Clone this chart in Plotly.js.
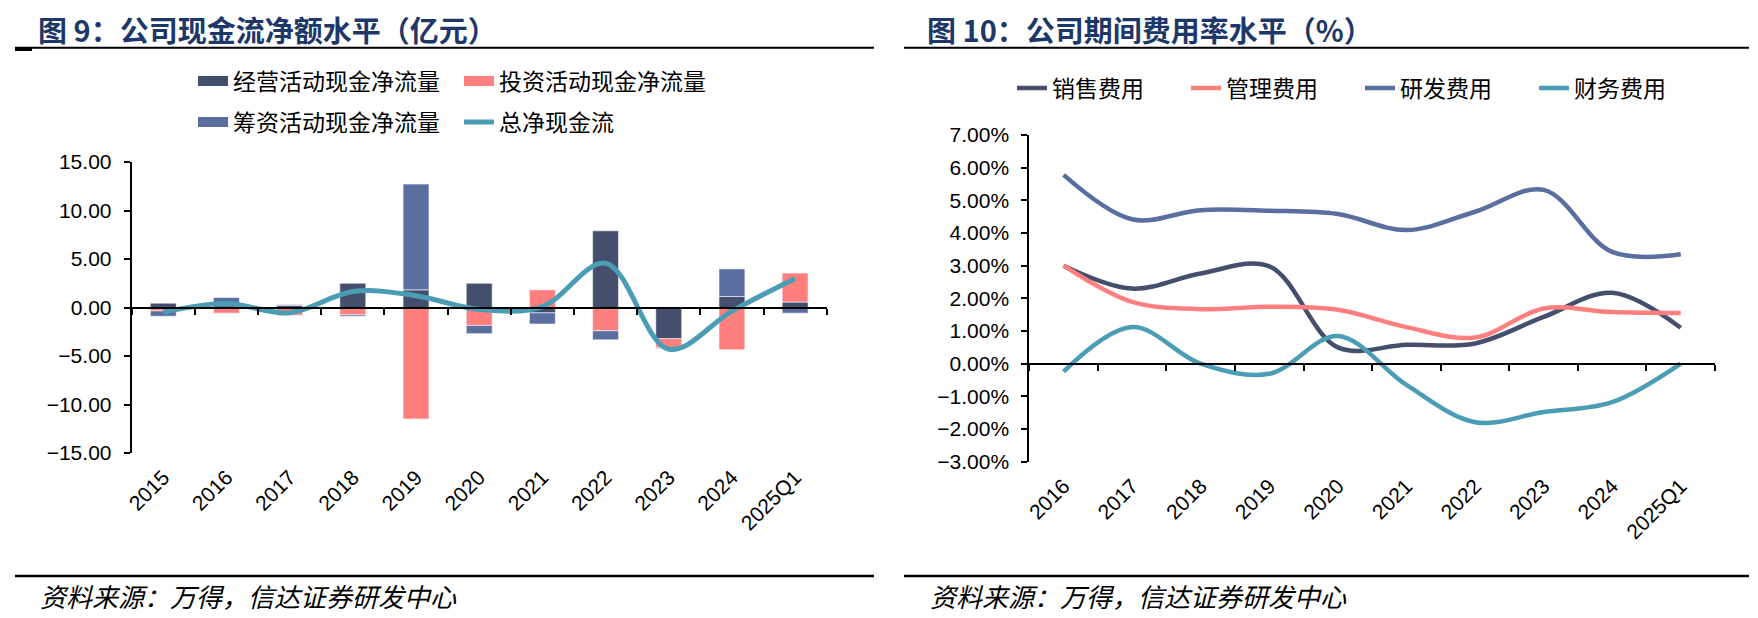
<!DOCTYPE html>
<html>
<head>
<meta charset="utf-8">
<script src="https://cdn.plot.ly/plotly-3.0.1.min.js"></script>
<style>
  html, body { margin: 0; padding: 0; background: #fff; }
  #chart { width: 1758px; height: 618px; }
</style>
</head>
<body>
<div id="chart"></div>
<script>
// ---------- Figure 9 data (亿元) ----------
const years9 = ['2015', '2016', '2017', '2018', '2019', '2020', '2021', '2022', '2023', '2024', '2025Q1'];
const operatingCF = [0.45, 0.00, 0.20, 2.50, 1.82, 2.50, -0.55, 7.90, -3.22, 1.13, 0.56];
const investingCF = [-0.35, -0.58, -0.80, -0.75, -11.50, -1.85, 1.82, -2.40, -0.90, -4.35, 2.99];
const financingCF = [-0.55, 1.03, 0.10, -0.15, 10.90, -0.85, -1.15, -0.93, -0.10, 2.85, -0.58];
const netCF = [-0.47, 0.42, -0.55, 1.65, 1.22, -0.20, 0.10, 4.57, -4.30, -0.37, 3.00];
const names9 = ['经营活动现金净流量', '投资活动现金净流量', '筹资活动现金净流量', '总净现金流'];

// ---------- Figure 10 data (%) ----------
const years10 = ['2016', '2017', '2018', '2019', '2020', '2021', '2022', '2023', '2024', '2025Q1'];
const salesExp = [3.00, 2.30, 2.76, 2.98, 0.50, 0.58, 0.62, 1.43, 2.17, 1.10];
const adminExp = [3.00, 1.89, 1.67, 1.74, 1.65, 1.12, 0.80, 1.69, 1.58, 1.55];
const rdExp = [5.78, 4.42, 4.70, 4.68, 4.58, 4.09, 4.65, 5.32, 3.42, 3.35];
const finExp = [-0.24, 1.12, 0.00, -0.31, 0.85, -0.65, -1.79, -1.48, -1.18, 0.00];
const names10 = ['销售费用', '管理费用', '研发费用', '财务费用'];

const title9 = '图 9：公司现金流净额水平（亿元）';
const title10 = '图 10：公司期间费用率水平（%）';
const sourceText = '资料来源：万得，信达证券研发中心';

// ---------- styling ----------
const C_DARK = '#444f6e';
const C_PINK = '#ff7f7f';
const C_BLUE = '#5a6ea0';
const C_TEAL = '#4a9db5';
const C_TITLE = '#1d3868';
const FONT = 'Liberation Sans, Arial, Noto Sans CJK SC, sans-serif';
const CJK = 'Noto Sans CJK SC, sans-serif';

const barLine = { color: 'rgba(255,255,255,0.55)', width: 1 };
const noY10 = years10.map(() => null);

const traces = [
  { type: 'bar', name: names9[0], x: years9, y: operatingCF, xaxis: 'x', yaxis: 'y',
    marker: { color: C_DARK, line: barLine }, showlegend: false },
  { type: 'bar', name: names9[1], x: years9, y: investingCF, xaxis: 'x', yaxis: 'y',
    marker: { color: C_PINK, line: barLine }, showlegend: false },
  { type: 'bar', name: names9[2], x: years9, y: financingCF, xaxis: 'x', yaxis: 'y',
    marker: { color: C_BLUE, line: barLine }, showlegend: false },
  { type: 'scatter', mode: 'lines', name: names9[3], x: years9, y: netCF, xaxis: 'x2', yaxis: 'y',
    line: { color: C_TEAL, width: 5, shape: 'spline', smoothing: 1 }, showlegend: false },
  // legend entries for figure 9
  { type: 'scatter', mode: 'lines', name: names9[0], x: [null], y: [null], xaxis: 'x2', yaxis: 'y',
    line: { color: C_DARK, width: 12 }, legend: 'legend' },
  { type: 'scatter', mode: 'lines', name: names9[1], x: [null], y: [null], xaxis: 'x2', yaxis: 'y',
    line: { color: C_PINK, width: 12 }, legend: 'legend' },
  { type: 'scatter', mode: 'lines', name: names9[2], x: [null], y: [null], xaxis: 'x2', yaxis: 'y',
    line: { color: C_BLUE, width: 12 }, legend: 'legend2' },
  { type: 'scatter', mode: 'lines', name: names9[3], x: [null], y: [null], xaxis: 'x2', yaxis: 'y',
    line: { color: C_TEAL, width: 5 }, legend: 'legend2' },
  // figure 10
  { type: 'scatter', mode: 'lines', name: names10[0], x: years10, y: salesExp, xaxis: 'x3', yaxis: 'y2',
    line: { color: C_DARK, width: 4.5, shape: 'spline', smoothing: 1 }, legend: 'legend3' },
  { type: 'scatter', mode: 'lines', name: names10[1], x: years10, y: adminExp, xaxis: 'x3', yaxis: 'y2',
    line: { color: C_PINK, width: 4.5, shape: 'spline', smoothing: 1 }, legend: 'legend3' },
  { type: 'scatter', mode: 'lines', name: names10[2], x: years10, y: rdExp, xaxis: 'x3', yaxis: 'y2',
    line: { color: C_BLUE, width: 4.5, shape: 'spline', smoothing: 1 }, legend: 'legend3' },
  { type: 'scatter', mode: 'lines', name: names10[3], x: years10, y: finExp, xaxis: 'x3', yaxis: 'y2',
    line: { color: C_TEAL, width: 4.5, shape: 'spline', smoothing: 1 }, legend: 'legend3' },
  // carrier for the zero-positioned category axis of figure 10 (draws nothing)
  { type: 'scatter', mode: 'lines', x: years10, y: noY10, xaxis: 'x4', yaxis: 'y2',
    showlegend: false, hoverinfo: 'skip' }
];

const W = 1758, H = 618;
const px = v => v / W;
const py = v => (H - v) / H;

const leftDom = [px(131.7), px(826.7)];
const leftYDom = [py(453), py(162)];
const rightDom = [px(1029.3), px(1715)];
const rightYDom = [py(461.7), py(135)];

const tickFont = { family: FONT, size: 21, color: '#000' };
const legendFont = { family: CJK, size: 23, color: '#000' };

const catX = (dom, anchor, cats) => ({
  domain: dom, anchor: anchor, type: 'category', categoryorder: 'array', categoryarray: cats,
  range: [-0.5, cats.length - 0.5], showline: false, ticks: '', showgrid: false, zeroline: false,
  tickangle: -45, tickfont: tickFont, ticklabelstandoff: 7, fixedrange: true
});
const zeroX = (over, pos, cats) => ({
  overlaying: over, anchor: 'free', position: pos, type: 'category', categoryorder: 'array',
  categoryarray: cats, range: [-0.5, cats.length - 0.5], showline: true, linecolor: '#000', linewidth: 2,
  ticks: 'outside', tickson: 'boundaries', ticklen: 6, tickwidth: 2, tickcolor: '#000',
  showticklabels: false, showgrid: false, zeroline: false
});

const layout = {
  width: W, height: H,
  margin: { l: 0, r: 0, t: 0, b: 0, pad: 0 },
  paper_bgcolor: '#fff', plot_bgcolor: 'rgba(0,0,0,0)',
  barmode: 'relative', bargap: 0.59,
  font: { family: FONT, size: 21, color: '#000' },
  xaxis: catX(leftDom, 'y', years9),
  xaxis2: zeroX('x', (leftYDom[0] + leftYDom[1]) / 2, years9),
  yaxis: {
    domain: leftYDom, anchor: 'x', range: [-15, 15], dtick: 5, tick0: 0, tickformat: '.2f',
    showline: true, linecolor: '#000', linewidth: 2, ticks: 'outside', ticklen: 6, tickwidth: 2,
    tickcolor: '#000', showgrid: false, zeroline: false, tickfont: tickFont, ticklabelstandoff: 8
  },
  xaxis3: catX(rightDom, 'y2', years10),
  xaxis4: zeroX('x3', rightYDom[0] + (rightYDom[1] - rightYDom[0]) * 0.3, years10),
  yaxis2: {
    domain: rightYDom, anchor: 'x3', range: [-3, 7], dtick: 1, tick0: 0, tickformat: '.2f', ticksuffix: '%',
    showline: true, linecolor: '#000', linewidth: 2, ticks: 'outside', ticklen: 6, tickwidth: 2,
    tickcolor: '#000', showgrid: false, zeroline: false, tickfont: tickFont, ticklabelstandoff: 8
  },
  legend: {
    orientation: 'h', x: px(193), xanchor: 'left', y: py(81), yanchor: 'middle',
    font: legendFont, entrywidth: 221, entrywidthmode: 'pixels', bgcolor: 'rgba(0,0,0,0)',
    itemclick: false, itemdoubleclick: false
  },
  legend2: {
    orientation: 'h', x: px(193), xanchor: 'left', y: py(122), yanchor: 'middle',
    font: legendFont, entrywidth: 221, entrywidthmode: 'pixels', bgcolor: 'rgba(0,0,0,0)',
    itemclick: false, itemdoubleclick: false
  },
  legend3: {
    orientation: 'h', x: px(1012), xanchor: 'left', y: py(88), yanchor: 'middle',
    font: legendFont, entrywidth: 129, entrywidthmode: 'pixels', bgcolor: 'rgba(0,0,0,0)',
    itemclick: false, itemdoubleclick: false
  },
  annotations: [
    { text: '<b>' + title9 + '</b>', xref: 'paper', yref: 'paper', x: px(36), y: py(29),
      xanchor: 'left', yanchor: 'middle', showarrow: false, font: { family: CJK, size: 29, color: C_TITLE } },
    { text: '<b>' + title10 + '</b>', xref: 'paper', yref: 'paper', x: px(925), y: py(29),
      xanchor: 'left', yanchor: 'middle', showarrow: false, font: { family: CJK, size: 29, color: C_TITLE } },
    { text: sourceText, xref: 'paper', yref: 'paper', x: px(38), y: py(595),
      xanchor: 'left', yanchor: 'middle', showarrow: false,
      font: { family: CJK, size: 26, color: '#000', style: 'italic' } },
    { text: sourceText, xref: 'paper', yref: 'paper', x: px(928), y: py(595),
      xanchor: 'left', yanchor: 'middle', showarrow: false,
      font: { family: CJK, size: 26, color: '#000', style: 'italic' } }
  ],
  shapes: [
    { type: 'line', xref: 'paper', yref: 'paper', x0: px(15), x1: px(874), y0: py(47.7), y1: py(47.7),
      line: { color: '#000', width: 2 } },
    { type: 'line', xref: 'paper', yref: 'paper', x0: px(15), x1: px(32), y0: py(49.5), y1: py(49.5),
      line: { color: '#000', width: 3 } },
    { type: 'line', xref: 'paper', yref: 'paper', x0: px(904), x1: px(1749), y0: py(47.7), y1: py(47.7),
      line: { color: '#000', width: 2 } },
    { type: 'line', xref: 'paper', yref: 'paper', x0: px(15), x1: px(874), y0: py(576), y1: py(576),
      line: { color: '#000', width: 2.5 } },
    { type: 'line', xref: 'paper', yref: 'paper', x0: px(904), x1: px(1749), y0: py(576), y1: py(576),
      line: { color: '#000', width: 2.5 } }
  ]
};

Plotly.newPlot('chart', traces, layout, { staticPlot: true, displayModeBar: false });
</script>
</body>
</html>
